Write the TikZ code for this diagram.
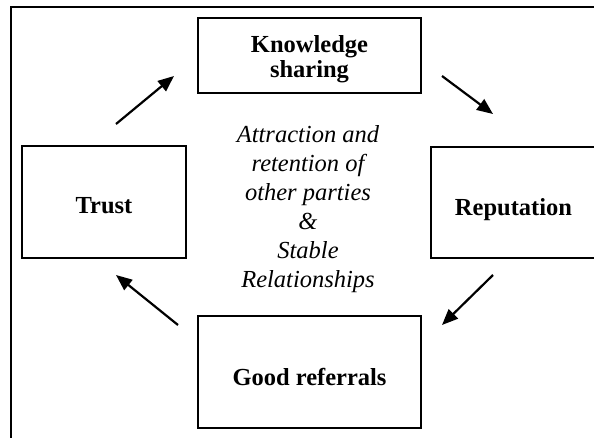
\documentclass[tikz,border=0pt]{standalone}
\usepackage{fontspec}
\setmainfont{Liberation Serif}
\usetikzlibrary{arrows.meta}
\tikzset{
  box/.style={draw=black, line width=1.2pt, inner sep=0pt, align=center,
    font=\bfseries\fontsize{24.5}{25}\selectfont},
  boxtext/.style={inner sep=0pt, align=center, font=\bfseries\fontsize{24.5}{25}\selectfont},
  flow/.style={line width=2.2pt, -{Triangle[length=16pt,width=13pt]}},
  frame/.style={line width=1.2pt}
}
\begin{document}
\begin{tikzpicture}[x=1pt,y=-1pt]
\useasboundingbox (0,0) rectangle (594,437);
% outer frame (only top and left edges visible)
\coordinate (ftl) at (11,7);
\coordinate (ftr) at (600,7);
\coordinate (fbl) at (11,445);
\draw[frame] (fbl) -- (ftl) -- (ftr);
% boxes
\node[box, minimum width=164pt, minimum height=112pt, text height=22pt, text depth=0pt] (trust) at (104,202) {Trust};
\node[box, minimum width=223pt, minimum height=75pt] (know) at (309.5,55.5) {};
\node[boxtext] (knowtext) at (309.5,58.8) {Knowledge\\sharing};
\node[box, minimum width=165pt, minimum height=111pt, text height=25pt, text depth=0pt] (rep) at (513.5,202.5) {Reputation};
\node[box, minimum width=223pt, minimum height=112pt, text height=26pt, text depth=0pt] (good) at (309.5,372) {Good referrals};
% centre text
\node[align=center, font=\itshape\fontsize{24.5}{29}\selectfont] (centre) at (308,209)
  {Attraction and\\retention of\\other parties\\\&\\Stable\\Relationships};
% arrows
\coordinate (a1s) at (116,124); \coordinate (a1e) at (174,76);
\coordinate (a2s) at (442,76);  \coordinate (a2e) at (493,114);
\coordinate (a3s) at (493,275); \coordinate (a3e) at (442,325);
\coordinate (a4s) at (178,325); \coordinate (a4e) at (116,275);
\draw[flow] (a1s) -- (a1e);
\draw[flow] (a2s) -- (a2e);
\draw[flow] (a3s) -- (a3e);
\draw[flow] (a4s) -- (a4e);
\end{tikzpicture}
\end{document}
